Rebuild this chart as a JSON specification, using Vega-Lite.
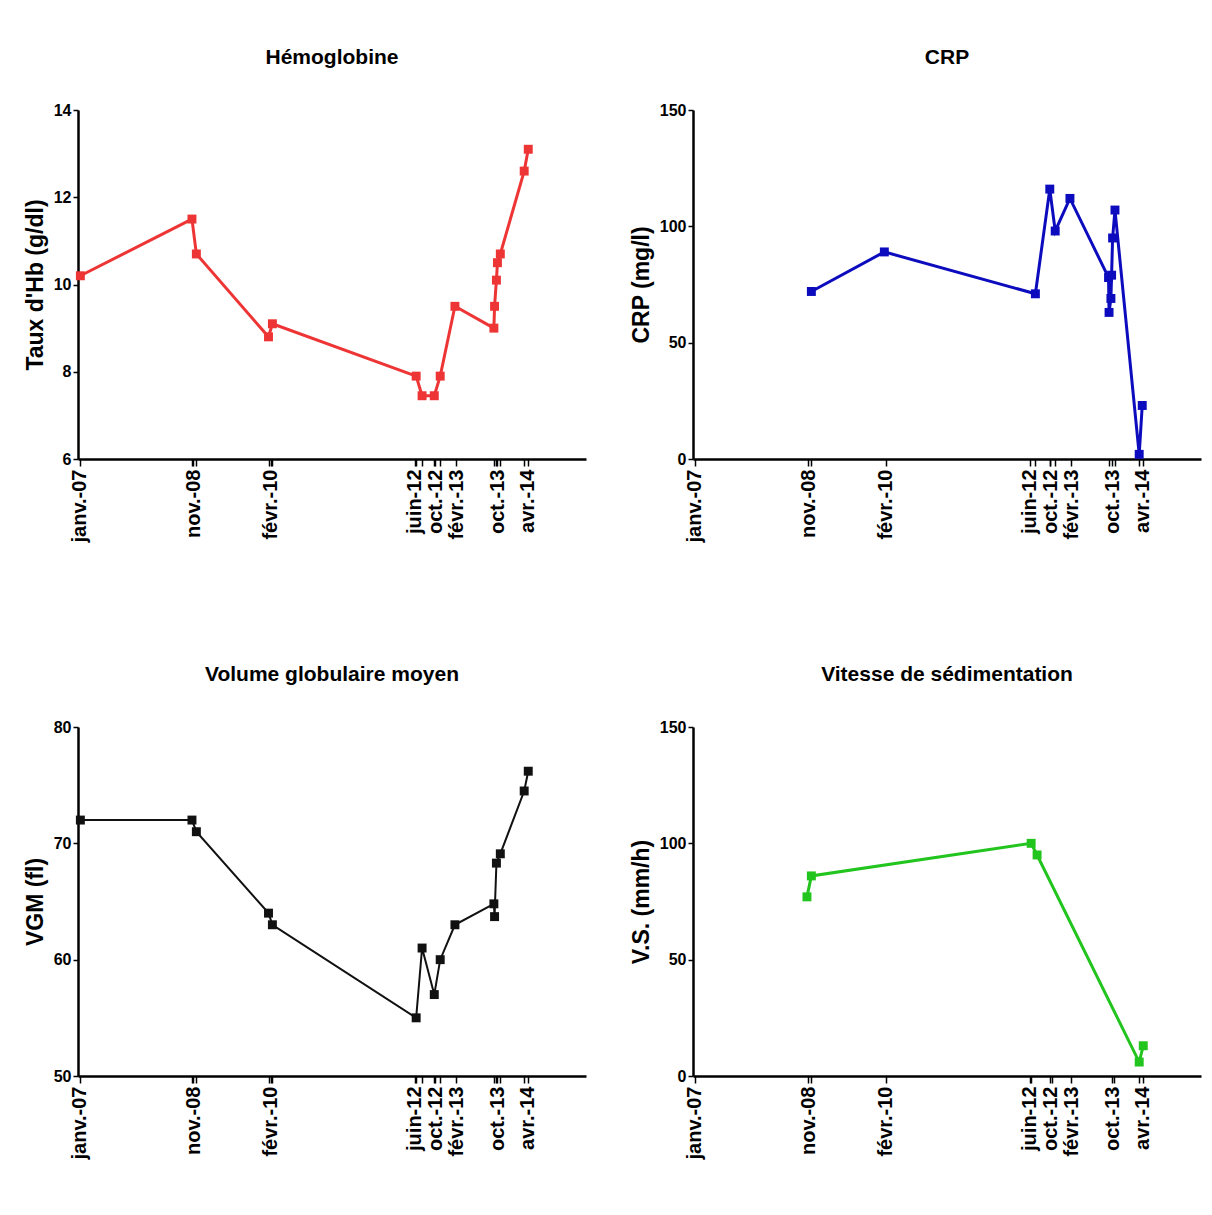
{
  "$schema": "https://vega.github.io/schema/vega-lite/v6.json",
  "background": "white",
  "padding": {"left": 24, "top": 47, "right": 5, "bottom": 5},
  "datasets": {
    "hb": [
      {"date": "2007-01-05", "v": 10.2},
      {"date": "2008-10-25", "v": 11.5},
      {"date": "2008-11-20", "v": 10.7},
      {"date": "2010-01-20", "v": 8.8},
      {"date": "2010-02-12", "v": 9.1},
      {"date": "2012-06-10", "v": 7.9},
      {"date": "2012-07-15", "v": 7.45},
      {"date": "2012-09-25", "v": 7.45},
      {"date": "2012-10-30", "v": 7.9},
      {"date": "2013-01-25", "v": 9.5},
      {"date": "2013-09-12", "v": 9.0},
      {"date": "2013-09-16", "v": 9.5},
      {"date": "2013-09-27", "v": 10.1},
      {"date": "2013-10-03", "v": 10.5},
      {"date": "2013-10-20", "v": 10.7},
      {"date": "2014-03-10", "v": 12.6},
      {"date": "2014-04-03", "v": 13.1}
    ],
    "crp": [
      {"date": "2008-11-20", "v": 72},
      {"date": "2010-01-25", "v": 89},
      {"date": "2012-07-05", "v": 71},
      {"date": "2012-09-28", "v": 116},
      {"date": "2012-10-30", "v": 98},
      {"date": "2013-01-25", "v": 112},
      {"date": "2013-09-10", "v": 78},
      {"date": "2013-09-13", "v": 63},
      {"date": "2013-09-24", "v": 69},
      {"date": "2013-09-28", "v": 79},
      {"date": "2013-10-04", "v": 95},
      {"date": "2013-10-18", "v": 107},
      {"date": "2014-03-10", "v": 2},
      {"date": "2014-03-28", "v": 23}
    ],
    "vgm": [
      {"date": "2007-01-05", "v": 72},
      {"date": "2008-10-25", "v": 72},
      {"date": "2008-11-20", "v": 71},
      {"date": "2010-01-20", "v": 64},
      {"date": "2010-02-12", "v": 63},
      {"date": "2012-06-10", "v": 55},
      {"date": "2012-07-15", "v": 61},
      {"date": "2012-09-25", "v": 57},
      {"date": "2012-10-30", "v": 60},
      {"date": "2013-01-25", "v": 63},
      {"date": "2013-09-12", "v": 64.8},
      {"date": "2013-09-16", "v": 63.7},
      {"date": "2013-09-27", "v": 68.3},
      {"date": "2013-10-20", "v": 69.1},
      {"date": "2014-03-10", "v": 74.5},
      {"date": "2014-04-03", "v": 76.2}
    ],
    "vs": [
      {"date": "2008-10-25", "v": 77},
      {"date": "2008-11-20", "v": 86},
      {"date": "2012-06-10", "v": 100},
      {"date": "2012-07-15", "v": 95},
      {"date": "2014-03-10", "v": 6},
      {"date": "2014-04-03", "v": 13}
    ]
  },
  "config": {
    "font": "Liberation Sans",
    "view": {"stroke": null},
    "title": {"fontSize": 21, "fontWeight": "bold", "color": "#000000", "font": "Liberation Sans", "offset": 34},
    "axis": {
      "grid": false,
      "labelFont": "Liberation Sans",
      "titleFont": "Liberation Sans",
      "labelFontWeight": "bold",
      "titleFontWeight": "bold",
      "labelColor": "#000000",
      "titleColor": "#000000",
      "domainColor": "#000000",
      "tickColor": "#000000",
      "domainWidth": 2.5,
      "tickWidth": 1.5
    },
    "axisX": {
      "labelAngle": 270,
      "labelAlign": "right",
      "labelBaseline": "middle",
      "labelFontSize": 20,
      "tickSize": 7,
      "labelPadding": 3,
      "labelOverlap": false,
      "labelFlush": false
    },
    "axisY": {
      "labelFontSize": 16,
      "titleFontSize": 23,
      "tickSize": 5,
      "labelPadding": 2,
      "titlePadding": 6
    }
  },
  "vconcat": [
    {
      "hconcat": [
        {
          "title": "Hémoglobine",
          "width": 508,
          "height": 349,
          "data": {"name": "hb"},
          "encoding": {
            "x": {
              "field": "date", "type": "temporal", "title": null,
              "scale": {"type": "utc", "domain": [{"year": 2006, "month": 12, "date": 22, "utc": true}, {"year": 2015, "month": 3, "date": 10, "utc": true}]},
              "axis": {
                "values": [
                  {"year": 2007, "month": 1, "date": 1, "utc": true},
                  {"year": 2008, "month": 11, "date": 1, "utc": true},
                  {"year": 2010, "month": 2, "date": 1, "utc": true},
                  {"year": 2012, "month": 6, "date": 1, "utc": true},
                  {"year": 2012, "month": 10, "date": 1, "utc": true},
                  {"year": 2013, "month": 2, "date": 1, "utc": true},
                  {"year": 2013, "month": 10, "date": 1, "utc": true},
                  {"year": 2014, "month": 4, "date": 1, "utc": true},
                  {"year": 2008, "month": 10, "date": 25, "utc": true},
                  {"year": 2008, "month": 11, "date": 20, "utc": true},
                  {"year": 2010, "month": 1, "date": 20, "utc": true},
                  {"year": 2010, "month": 2, "date": 12, "utc": true},
                  {"year": 2012, "month": 6, "date": 10, "utc": true},
                  {"year": 2012, "month": 7, "date": 15, "utc": true},
                  {"year": 2012, "month": 9, "date": 25, "utc": true},
                  {"year": 2012, "month": 10, "date": 30, "utc": true},
                  {"year": 2013, "month": 9, "date": 12, "utc": true},
                  {"year": 2013, "month": 9, "date": 27, "utc": true},
                  {"year": 2013, "month": 10, "date": 20, "utc": true},
                  {"year": 2014, "month": 3, "date": 10, "utc": true}
                ],
                "labelExpr": "utcdate(datum.value) == 1 ? ['janv.','févr.','mars','avr.','mai','juin','juil.','août','sept.','oct.','nov.','déc.'][utcmonth(datum.value)] + '-' + utcFormat(datum.value, '%y') : ''"
              }
            },
            "y": {
              "field": "v", "type": "quantitative", "title": "Taux d'Hb (g/dl)",
              "scale": {"domain": [6, 14], "nice": false, "zero": false},
              "axis": {"values": [6, 8, 10, 12, 14]}
            }
          },
          "layer": [
            {"mark": {"type": "line", "color": "#ee3535", "strokeWidth": 3}},
            {"mark": {"type": "square", "color": "#ee3535", "size": 80, "opacity": 1}}
          ]
        },
        {
          "title": "CRP",
          "width": 508,
          "height": 349,
          "data": {"name": "crp"},
          "encoding": {
            "x": {
              "field": "date", "type": "temporal", "title": null,
              "scale": {"type": "utc", "domain": [{"year": 2006, "month": 12, "date": 22, "utc": true}, {"year": 2015, "month": 3, "date": 10, "utc": true}]},
              "axis": {
                "values": [
                  {"year": 2007, "month": 1, "date": 1, "utc": true},
                  {"year": 2008, "month": 11, "date": 1, "utc": true},
                  {"year": 2010, "month": 2, "date": 1, "utc": true},
                  {"year": 2012, "month": 6, "date": 1, "utc": true},
                  {"year": 2012, "month": 10, "date": 1, "utc": true},
                  {"year": 2013, "month": 2, "date": 1, "utc": true},
                  {"year": 2013, "month": 10, "date": 1, "utc": true},
                  {"year": 2014, "month": 4, "date": 1, "utc": true},
                  {"year": 2008, "month": 11, "date": 20, "utc": true},
                  {"year": 2012, "month": 7, "date": 5, "utc": true},
                  {"year": 2012, "month": 9, "date": 28, "utc": true},
                  {"year": 2012, "month": 10, "date": 30, "utc": true},
                  {"year": 2013, "month": 9, "date": 13, "utc": true},
                  {"year": 2013, "month": 10, "date": 18, "utc": true},
                  {"year": 2014, "month": 3, "date": 10, "utc": true}
                ],
                "labelExpr": "utcdate(datum.value) == 1 ? ['janv.','févr.','mars','avr.','mai','juin','juil.','août','sept.','oct.','nov.','déc.'][utcmonth(datum.value)] + '-' + utcFormat(datum.value, '%y') : ''"
              }
            },
            "y": {
              "field": "v", "type": "quantitative", "title": "CRP (mg/l)",
              "scale": {"domain": [0, 150], "nice": false},
              "axis": {"values": [0, 50, 100, 150]}
            }
          },
          "layer": [
            {"mark": {"type": "line", "color": "#0c0cbe", "strokeWidth": 3}},
            {"mark": {"type": "square", "color": "#0c0cbe", "size": 80, "opacity": 1}}
          ]
        }
      ],
      "spacing": 44
    },
    {
      "hconcat": [
        {
          "title": "Volume globulaire moyen",
          "width": 508,
          "height": 349,
          "data": {"name": "vgm"},
          "encoding": {
            "x": {
              "field": "date", "type": "temporal", "title": null,
              "scale": {"type": "utc", "domain": [{"year": 2006, "month": 12, "date": 22, "utc": true}, {"year": 2015, "month": 3, "date": 10, "utc": true}]},
              "axis": {
                "values": [
                  {"year": 2007, "month": 1, "date": 1, "utc": true},
                  {"year": 2008, "month": 11, "date": 1, "utc": true},
                  {"year": 2010, "month": 2, "date": 1, "utc": true},
                  {"year": 2012, "month": 6, "date": 1, "utc": true},
                  {"year": 2012, "month": 10, "date": 1, "utc": true},
                  {"year": 2013, "month": 2, "date": 1, "utc": true},
                  {"year": 2013, "month": 10, "date": 1, "utc": true},
                  {"year": 2014, "month": 4, "date": 1, "utc": true},
                  {"year": 2008, "month": 10, "date": 25, "utc": true},
                  {"year": 2008, "month": 11, "date": 20, "utc": true},
                  {"year": 2010, "month": 1, "date": 20, "utc": true},
                  {"year": 2010, "month": 2, "date": 12, "utc": true},
                  {"year": 2012, "month": 6, "date": 10, "utc": true},
                  {"year": 2012, "month": 7, "date": 15, "utc": true},
                  {"year": 2012, "month": 9, "date": 25, "utc": true},
                  {"year": 2012, "month": 10, "date": 30, "utc": true},
                  {"year": 2013, "month": 9, "date": 12, "utc": true},
                  {"year": 2013, "month": 9, "date": 27, "utc": true},
                  {"year": 2013, "month": 10, "date": 20, "utc": true},
                  {"year": 2014, "month": 3, "date": 10, "utc": true}
                ],
                "labelExpr": "utcdate(datum.value) == 1 ? ['janv.','févr.','mars','avr.','mai','juin','juil.','août','sept.','oct.','nov.','déc.'][utcmonth(datum.value)] + '-' + utcFormat(datum.value, '%y') : ''"
              }
            },
            "y": {
              "field": "v", "type": "quantitative", "title": "VGM (fl)",
              "scale": {"domain": [50, 80], "nice": false, "zero": false},
              "axis": {"values": [50, 60, 70, 80]}
            }
          },
          "layer": [
            {"mark": {"type": "line", "color": "#111111", "strokeWidth": 2}},
            {"mark": {"type": "square", "color": "#111111", "size": 80, "opacity": 1}}
          ]
        },
        {
          "title": "Vitesse de sédimentation",
          "width": 508,
          "height": 349,
          "data": {"name": "vs"},
          "encoding": {
            "x": {
              "field": "date", "type": "temporal", "title": null,
              "scale": {"type": "utc", "domain": [{"year": 2006, "month": 12, "date": 22, "utc": true}, {"year": 2015, "month": 3, "date": 10, "utc": true}]},
              "axis": {
                "values": [
                  {"year": 2007, "month": 1, "date": 1, "utc": true},
                  {"year": 2008, "month": 11, "date": 1, "utc": true},
                  {"year": 2010, "month": 2, "date": 1, "utc": true},
                  {"year": 2012, "month": 6, "date": 1, "utc": true},
                  {"year": 2012, "month": 10, "date": 1, "utc": true},
                  {"year": 2013, "month": 2, "date": 1, "utc": true},
                  {"year": 2013, "month": 10, "date": 1, "utc": true},
                  {"year": 2014, "month": 4, "date": 1, "utc": true},
                  {"year": 2008, "month": 11, "date": 20, "utc": true},
                  {"year": 2012, "month": 6, "date": 10, "utc": true},
                  {"year": 2012, "month": 10, "date": 10, "utc": true},
                  {"year": 2013, "month": 10, "date": 12, "utc": true},
                  {"year": 2014, "month": 3, "date": 10, "utc": true}
                ],
                "labelExpr": "utcdate(datum.value) == 1 ? ['janv.','févr.','mars','avr.','mai','juin','juil.','août','sept.','oct.','nov.','déc.'][utcmonth(datum.value)] + '-' + utcFormat(datum.value, '%y') : ''"
              }
            },
            "y": {
              "field": "v", "type": "quantitative", "title": "V.S. (mm/h)",
              "scale": {"domain": [0, 150], "nice": false},
              "axis": {"values": [0, 50, 100, 150]}
            }
          },
          "layer": [
            {"mark": {"type": "line", "color": "#22c41e", "strokeWidth": 3}},
            {"mark": {"type": "square", "color": "#22c41e", "size": 80, "opacity": 1}}
          ]
        }
      ],
      "spacing": 44
    }
  ],
  "spacing": 122
}
